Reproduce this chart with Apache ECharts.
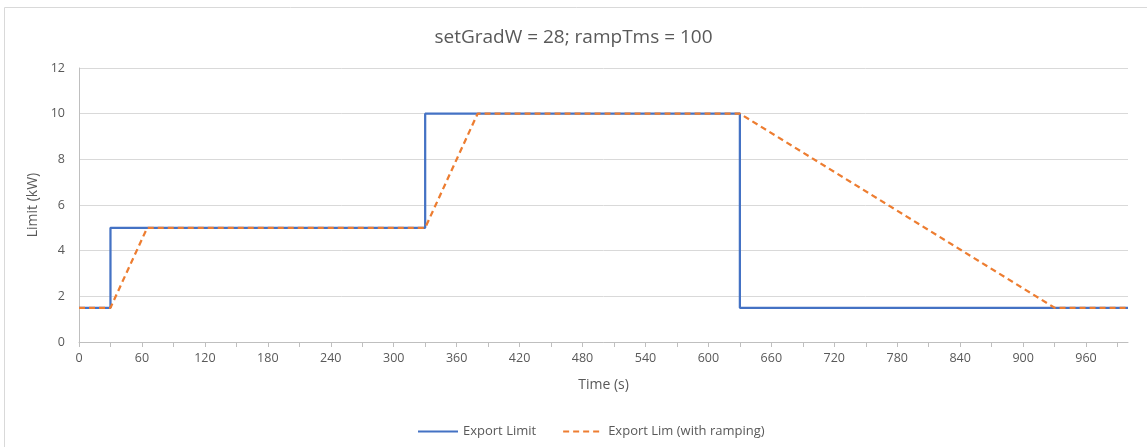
<!DOCTYPE html>
<html><head><meta charset="utf-8">
<script src="https://cdn.jsdelivr.net/npm/echarts@6/dist/echarts.min.js"></script>
<style>html,body{margin:0;padding:0;background:#fff}#c{width:1147px;height:447px}</style>
</head><body><div id="c"></div>
<script>
const titleText = 'setGradW = 28; rampTms = 100';
const seriesNames = ['Export Limit', 'Export Lim (with ramping)'];
const exportLimit = [[0,1.5],[30,1.5],[30,5],[330,5],[330,10],[630,10],[630,1.5],[1000,1.5]];
const exportLimRamp = [[0,1.5],[30,1.5],[65,5],[330,5],[380,10],[630,10],[930,1.5],[1000,1.5]];
const chart = echarts.init(document.getElementById('c'));
const txt = '#595959';
chart.setOption({
  animation:false,
  title:{text:titleText,left:'center',top:23,textStyle:{fontFamily:'Open Sans',fontSize:19,fontWeight:'normal',color:txt}},
  graphic:[{type:'rect',shape:{x:4.5,y:7.5,width:1200,height:500},style:{fill:'none',stroke:'#d9d9d9',lineWidth:1}}],
  grid:{left:79,top:68,right:19,bottom:105},
  legend:{top:420,left:412,itemWidth:40,itemHeight:12,itemGap:26,
    itemStyle:{opacity:0},
    textStyle:{fontFamily:'Open Sans',fontSize:13,color:txt},
    data:seriesNames},
  xAxis:{type:'value',min:0,max:1000,interval:30,name:'Time (s)',nameLocation:'middle',nameGap:36,
    nameTextStyle:{fontFamily:'Open Sans',fontSize:14,color:txt},
    axisLine:{lineStyle:{color:'#bfbfbf'}},axisTick:{show:true,length:5,lineStyle:{color:'#bfbfbf'}},
    axisLabel:{fontFamily:'Open Sans',fontSize:12.5,color:txt,margin:10,showMaxLabel:false,
      formatter:v=>(v%60===0?String(v):'')},
    splitLine:{show:false}},
  yAxis:{type:'value',min:0,max:12,interval:2,name:'Limit (kW)',nameLocation:'middle',nameGap:35,
    nameTextStyle:{fontFamily:'Open Sans',fontSize:14,color:txt},
    axisLine:{show:true,lineStyle:{color:'#bfbfbf'}},axisTick:{show:false},
    axisLabel:{fontFamily:'Open Sans',fontSize:12.5,color:txt,margin:14},
    splitLine:{lineStyle:{color:'#d9d9d9'}}},
  series:[
    {name:seriesNames[0],type:'line',data:exportLimit,showSymbol:false,symbol:'none',
      lineStyle:{color:'#4472C4',width:2.25},itemStyle:{color:'#4472C4'}},
    {name:seriesNames[1],type:'line',data:exportLimRamp,showSymbol:false,symbol:'none',
      lineStyle:{color:'#ED7D31',width:2.25,type:[6,4]},itemStyle:{color:'#ED7D31'}}
  ]
});
</script></body></html>
